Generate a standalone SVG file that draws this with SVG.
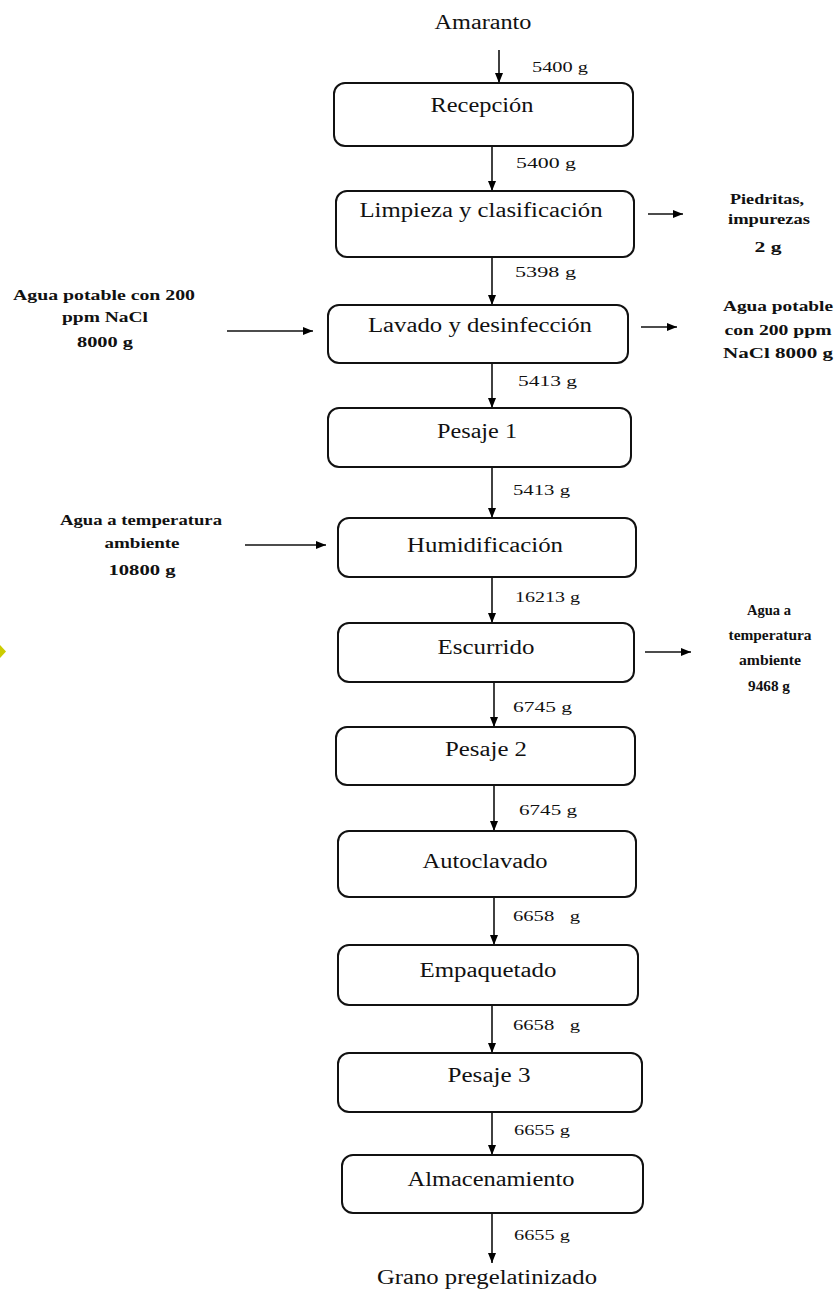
<svg xmlns="http://www.w3.org/2000/svg" width="834" height="1291" viewBox="0 0 834 1291">
<defs>
<marker id="ah" markerUnits="userSpaceOnUse" markerWidth="10" markerHeight="10" viewBox="0 0 10 10" refX="10" refY="5" orient="auto">
<path d="M0,1 L10,5 L0,9 Z" fill="#000"/>
</marker>
<style>
.box{fill:#fff;stroke:#111;stroke-width:2}
.lbl{font-family:"Liberation Serif","Times New Roman",serif;font-size:20px;fill:#111;text-anchor:middle}
.qty{font-family:"Liberation Serif","Times New Roman",serif;font-size:14px;fill:#111;text-anchor:start;white-space:pre}
.side{font-family:"Liberation Serif","Times New Roman",serif;font-size:14px;fill:#111;text-anchor:middle;font-weight:bold}
.con{stroke:#111;stroke-width:1.6;fill:none;marker-end:url(#ah)}
</style>
</defs>
<rect width="834" height="1291" fill="#fff"/>
<polygon points="0,645 6,651.5 0,658" fill="#cccc00"/>

<g id="connectors">
<line class="con" x1="499" y1="50" x2="499" y2="83"/>
<line class="con" x1="492" y1="146" x2="492" y2="191"/>
<line class="con" x1="492" y1="257" x2="492" y2="305"/>
<line class="con" x1="492" y1="363" x2="492" y2="408"/>
<line class="con" x1="492" y1="467" x2="492" y2="518"/>
<line class="con" x1="492" y1="577" x2="492" y2="623"/>
<line class="con" x1="494" y1="682" x2="494" y2="727"/>
<line class="con" x1="494" y1="785" x2="494" y2="831"/>
<line class="con" x1="494" y1="897" x2="494" y2="945"/>
<line class="con" x1="492" y1="1005" x2="492" y2="1053"/>
<line class="con" x1="492" y1="1112" x2="492" y2="1155"/>
<line class="con" x1="492" y1="1213" x2="492" y2="1263"/>
<line class="con" x1="648" y1="214" x2="683" y2="214"/>
<line class="con" x1="641" y1="327" x2="677" y2="327"/>
<line class="con" x1="227" y1="331" x2="313" y2="331"/>
<line class="con" x1="245" y1="545" x2="326" y2="545"/>
<line class="con" x1="645" y1="652" x2="691" y2="652"/>
<text class="qty" x="532" y="72" textLength="56" lengthAdjust="spacingAndGlyphs">5400 g</text>
<text class="qty" x="516" y="168" textLength="60" lengthAdjust="spacingAndGlyphs">5400 g</text>
<text class="qty" x="515" y="277" textLength="61" lengthAdjust="spacingAndGlyphs">5398 g</text>
<text class="qty" x="518" y="386" textLength="59" lengthAdjust="spacingAndGlyphs">5413 g</text>
<text class="qty" x="513" y="495" textLength="57" lengthAdjust="spacingAndGlyphs">5413 g</text>
<text class="qty" x="515" y="602" textLength="65" lengthAdjust="spacingAndGlyphs">16213 g</text>
<text class="qty" x="513" y="712" textLength="59" lengthAdjust="spacingAndGlyphs">6745 g</text>
<text class="qty" x="519" y="815" textLength="58" lengthAdjust="spacingAndGlyphs">6745 g</text>
<text class="qty" x="513" y="921" xml:space="preserve" textLength="67" lengthAdjust="spacingAndGlyphs">6658   g</text>
<text class="qty" x="513" y="1030" xml:space="preserve" textLength="67" lengthAdjust="spacingAndGlyphs">6658   g</text>
<text class="qty" x="514" y="1135" textLength="56" lengthAdjust="spacingAndGlyphs">6655 g</text>
<text class="qty" x="514" y="1240" textLength="56" lengthAdjust="spacingAndGlyphs">6655 g</text>
</g>

<g id="n-amaranto"><text class="lbl" x="483" y="29" textLength="97" lengthAdjust="spacingAndGlyphs">Amaranto</text></g>
<g id="n-recepcion"><rect class="box" x="334" y="83" width="299" height="63" rx="11"/><text class="lbl" x="482" y="112" textLength="103" lengthAdjust="spacingAndGlyphs">Recepción</text></g>
<g id="n-limpieza"><rect class="box" x="336" y="191" width="298" height="66" rx="11"/><text class="lbl" x="481" y="217" textLength="243" lengthAdjust="spacingAndGlyphs">Limpieza y clasificación</text></g>
<g id="n-lavado"><rect class="box" x="328" y="305" width="300" height="58" rx="11"/><text class="lbl" x="480" y="332" textLength="224" lengthAdjust="spacingAndGlyphs">Lavado y desinfección</text></g>
<g id="n-pesaje1"><rect class="box" x="328" y="408" width="303" height="59" rx="11"/><text class="lbl" x="477" y="438" textLength="80" lengthAdjust="spacingAndGlyphs">Pesaje 1</text></g>
<g id="n-humid"><rect class="box" x="338" y="518" width="298" height="59" rx="11"/><text class="lbl" x="485" y="552" textLength="156" lengthAdjust="spacingAndGlyphs">Humidificación</text></g>
<g id="n-escurrido"><rect class="box" x="338" y="623" width="296" height="59" rx="11"/><text class="lbl" x="486" y="654" textLength="97" lengthAdjust="spacingAndGlyphs">Escurrido</text></g>
<g id="n-pesaje2"><rect class="box" x="336" y="727" width="299" height="58" rx="11"/><text class="lbl" x="486" y="756" textLength="82" lengthAdjust="spacingAndGlyphs">Pesaje 2</text></g>
<g id="n-autoclavado"><rect class="box" x="338" y="831" width="298" height="66" rx="11"/><text class="lbl" x="485" y="868" textLength="125" lengthAdjust="spacingAndGlyphs">Autoclavado</text></g>
<g id="n-empaquetado"><rect class="box" x="338" y="945" width="300" height="60" rx="11"/><text class="lbl" x="488" y="977" textLength="137" lengthAdjust="spacingAndGlyphs">Empaquetado</text></g>
<g id="n-pesaje3"><rect class="box" x="338" y="1053" width="304" height="59" rx="11"/><text class="lbl" x="489" y="1082" textLength="83" lengthAdjust="spacingAndGlyphs">Pesaje 3</text></g>
<g id="n-almacenamiento"><rect class="box" x="342" y="1155" width="301" height="58" rx="11"/><text class="lbl" x="491" y="1186" textLength="167" lengthAdjust="spacingAndGlyphs">Almacenamiento</text></g>
<g id="n-grano"><text class="lbl" x="487" y="1284" textLength="220" lengthAdjust="spacingAndGlyphs">Grano pregelatinizado</text></g>

<g id="n-piedritas">
<text class="side" x="767" y="204" textLength="74" lengthAdjust="spacingAndGlyphs">Piedritas,</text>
<text class="side" x="769" y="224" textLength="82" lengthAdjust="spacingAndGlyphs">impurezas</text>
<text class="side" x="768" y="252" textLength="27" lengthAdjust="spacingAndGlyphs">2 g</text>
</g>
<g id="n-agua-out1">
<text class="side" x="778" y="311" textLength="110" lengthAdjust="spacingAndGlyphs">Agua potable</text>
<text class="side" x="778" y="335" textLength="107" lengthAdjust="spacingAndGlyphs">con 200 ppm</text>
<text class="side" x="778" y="358" textLength="110" lengthAdjust="spacingAndGlyphs">NaCl 8000 g</text>
</g>
<g id="n-agua-in1">
<text class="side" x="104" y="300" textLength="182" lengthAdjust="spacingAndGlyphs">Agua potable con 200</text>
<text class="side" x="105" y="322" textLength="86" lengthAdjust="spacingAndGlyphs">ppm NaCl</text>
<text class="side" x="105" y="347" textLength="56" lengthAdjust="spacingAndGlyphs">8000 g</text>
</g>
<g id="n-agua-in2">
<text class="side" x="141" y="525" textLength="162" lengthAdjust="spacingAndGlyphs">Agua a temperatura</text>
<text class="side" x="142" y="548" textLength="75" lengthAdjust="spacingAndGlyphs">ambiente</text>
<text class="side" x="142" y="575" textLength="67" lengthAdjust="spacingAndGlyphs">10800 g</text>
</g>
<g id="n-agua-out2">
<text class="side" x="769" y="615" textLength="44" lengthAdjust="spacingAndGlyphs">Agua a</text>
<text class="side" x="770" y="640" textLength="83" lengthAdjust="spacingAndGlyphs">temperatura</text>
<text class="side" x="770" y="665" textLength="62" lengthAdjust="spacingAndGlyphs">ambiente</text>
<text class="side" x="769" y="691" textLength="42" lengthAdjust="spacingAndGlyphs">9468 g</text>
</g>
</svg>
